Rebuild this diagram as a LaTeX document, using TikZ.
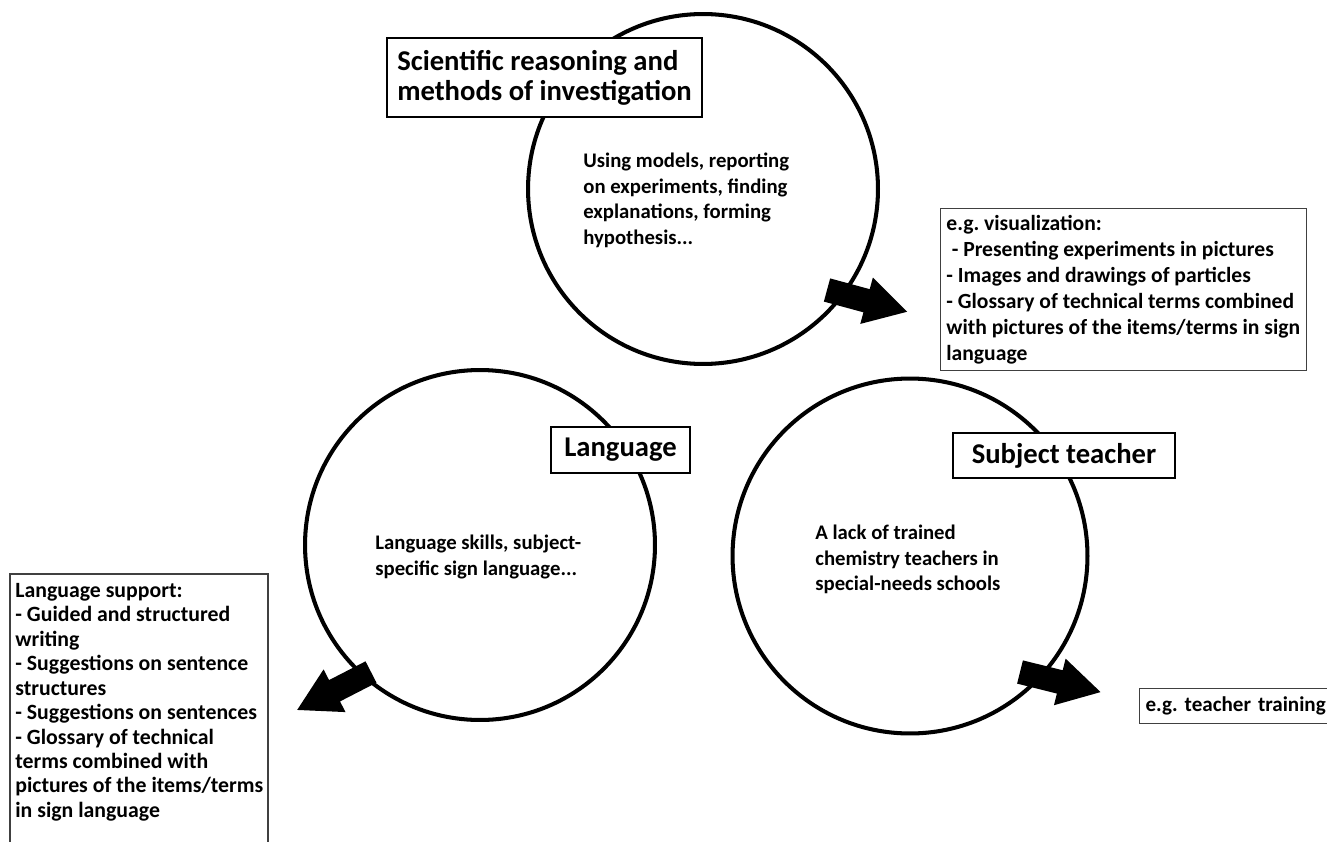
\documentclass[tikz,border=0pt]{standalone}
\usepackage{fontspec}
\setmainfont{Carlito}
\frenchspacing
\usetikzlibrary{positioning}
\tikzset
{
    ring/.style      = {circle, draw=black, line width=2.3pt, minimum size=#1, inner sep=0pt},
    titlebox/.style  = {draw=black, line width=1.1pt, fill=white, align=left, inner sep=0pt, font=\fontsize{16.3}{17.2}\selectfont\bfseries},
    notebox/.style   = {draw=black!75, line width=0.6pt, fill=white, align=left, font=\fontsize{12.3}{14.8}\selectfont\bfseries},
    bodytext/.style  = {align=left, inner sep=0pt, anchor=north west, font=\fontsize{11.8}{14.5}\selectfont\bfseries}
}
\newcommand{\blockarrow}[2]{\fill[shift={#1}, rotate=#2] (0,-12) -- (41,-12) -- (41,-24) -- (83,0) -- (41,24) -- (41,12) -- (0,12) -- cycle;}

\begin{document}
\begin{tikzpicture}[x=0.02cm, y=-0.02cm]
\useasboundingbox (0,0) rectangle (1327,841);
\clip (0,0) rectangle (1327,841);

\node[ring=7.0cm] (sciCircle) at (703,189) {};
\node[ring=7.0cm] (langCircle) at (480,545) {};
\node[ring=7.1cm] (teachCircle) at (910,556) {};

\blockarrow{(827,290)}{-15.2}
\blockarrow{(371,672)}{207.2}
\blockarrow{(1020,672)}{-14}

\node[titlebox, minimum width=6.3cm, minimum height=1.58cm] (sciTitle) at (544.5,77.5) {Scientific reasoning and\\methods of investigation};
\node[titlebox, minimum width=2.78cm, minimum height=0.92cm] (langTitle) at (620.5,450) {Language};
\node[titlebox, minimum width=4.44cm, minimum height=0.9cm] (teachTitle) at (1064,455.5) {Subject teacher};

\node[bodytext] (sciText) at (583,153) {Using models, reporting\\on experiments, finding\\explanations, forming\\hypothesis...};
\node[bodytext] (langText) at (375,535) {Language skills, subject-\\specific sign language...};
\node[bodytext] (teachText) at (815,525) {A lack of trained\\chemistry teachers in\\special-needs schools};

\node[notebox, minimum width=7.3cm, minimum height=3.24cm, anchor=north west] (visNote) at (940,208) {e.g. visualization:\\\hspace*{0.25em}- Presenting experiments in pictures\\- Images and drawings of particles\\- Glossary of technical terms combined\\with pictures of the items/terms in sign\\language};

\draw[draw=black!75, line width=0.6pt] (10,880) -- (10,574) -- (268,574) -- (268,880);
\node[bodytext, font=\fontsize{12.4}{13.9}\selectfont\bfseries] (supNote) at (15,583) {Language support:\\- Guided and structured\\writing\\- Suggestions on sentence\\structures\\- Suggestions on sentences\\- Glossary of technical\\terms combined with\\pictures of the items/terms\\in sign language};

\node[notebox, font=\fontsize{12}{14.5}\selectfont\bfseries, text width=5cm, inner xsep=0.12cm, minimum height=0.7cm, anchor=north west] (trainNote) at (1139,688) {e.g. teacher training};
\end{tikzpicture}
\end{document}
